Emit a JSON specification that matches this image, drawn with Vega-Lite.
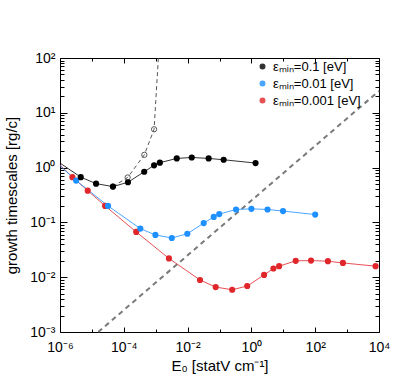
{
  "$schema": "https://vega.github.io/schema/vega-lite/v6.json",
  "width": 319,
  "height": 274,
  "autosize": "none",
  "padding": {"left": 60, "top": 58, "right": 20, "bottom": 60},
  "background": "white",
  "config": {
    "view": {"stroke": "black", "strokeWidth": 1},
    "axis": {
      "labelFont": "Liberation Sans", "titleFont": "Liberation Sans",
      "labelFontSize": 14, "titleFontSize": 15, "titleFontWeight": "normal",
      "labelColor": "black", "titleColor": "black", "tickColor": "black", "tickWidth": 1,
      "domain": false, "grid": false
    },
    "legend": {"labelFont": "Liberation Sans", "labelFontSize": 13, "labelColor": "black"}
  },
  "datasets": {
    "diag": [{"x": 1.58e-5, "y": 0.001}, {"x": 10000, "y": 25}],
    "curve": [
      {"x": 4.57e-5, "y": 0.45},
      {"x": 1.32e-4, "y": 0.66},
      {"x": 4.4e-4, "y": 1.71},
      {"x": 8.9e-4, "y": 5.0},
      {"x": 1.21e-3, "y": 100}
    ],
    "circles": [
      {"x": 4.57e-5, "y": 0.45},
      {"x": 1.32e-4, "y": 0.66},
      {"x": 4.4e-4, "y": 1.71},
      {"x": 8.9e-4, "y": 5.0}
    ],
    "lines": [
      {"series": "εₘᵢₙ=0.001 [eV]", "x": 1e-6, "y": 1.12},
      {"series": "εₘᵢₙ=0.001 [eV]", "x": 2.45e-6, "y": 0.67},
      {"series": "εₘᵢₙ=0.001 [eV]", "x": 7.4e-6, "y": 0.38},
      {"series": "εₘᵢₙ=0.001 [eV]", "x": 2.6e-5, "y": 0.2},
      {"series": "εₘᵢₙ=0.001 [eV]", "x": 2.45e-4, "y": 0.067},
      {"series": "εₘᵢₙ=0.001 [eV]", "x": 2.6e-3, "y": 0.022},
      {"series": "εₘᵢₙ=0.001 [eV]", "x": 2.45e-2, "y": 0.0089},
      {"series": "εₘᵢₙ=0.001 [eV]", "x": 7.6e-2, "y": 0.0066},
      {"series": "εₘᵢₙ=0.001 [eV]", "x": 0.25, "y": 0.0059},
      {"series": "εₘᵢₙ=0.001 [eV]", "x": 0.74, "y": 0.0069},
      {"series": "εₘᵢₙ=0.001 [eV]", "x": 2.5, "y": 0.011},
      {"series": "εₘᵢₙ=0.001 [eV]", "x": 4.9, "y": 0.0144},
      {"series": "εₘᵢₙ=0.001 [eV]", "x": 7.4, "y": 0.0159},
      {"series": "εₘᵢₙ=0.001 [eV]", "x": 24.5, "y": 0.0199},
      {"series": "εₘᵢₙ=0.001 [eV]", "x": 74, "y": 0.0201},
      {"series": "εₘᵢₙ=0.001 [eV]", "x": 250, "y": 0.0196},
      {"series": "εₘᵢₙ=0.001 [eV]", "x": 740, "y": 0.0182},
      {"series": "εₘᵢₙ=0.001 [eV]", "x": 7800, "y": 0.0159},
      {"series": "εₘᵢₙ=0.01 [eV]", "x": 1e-6, "y": 1.08},
      {"series": "εₘᵢₙ=0.01 [eV]", "x": 3.2e-6, "y": 0.58},
      {"series": "εₘᵢₙ=0.01 [eV]", "x": 3.2e-5, "y": 0.2},
      {"series": "εₘᵢₙ=0.01 [eV]", "x": 3.3e-4, "y": 0.077},
      {"series": "εₘᵢₙ=0.01 [eV]", "x": 9.8e-4, "y": 0.059},
      {"series": "εₘᵢₙ=0.01 [eV]", "x": 3.2e-3, "y": 0.052},
      {"series": "εₘᵢₙ=0.01 [eV]", "x": 9.8e-3, "y": 0.062},
      {"series": "εₘᵢₙ=0.01 [eV]", "x": 3.2e-2, "y": 0.097},
      {"series": "εₘᵢₙ=0.01 [eV]", "x": 6.6e-2, "y": 0.126},
      {"series": "εₘᵢₙ=0.01 [eV]", "x": 9.8e-2, "y": 0.142},
      {"series": "εₘᵢₙ=0.01 [eV]", "x": 0.33, "y": 0.172},
      {"series": "εₘᵢₙ=0.01 [eV]", "x": 1.0, "y": 0.177},
      {"series": "εₘᵢₙ=0.01 [eV]", "x": 3.2, "y": 0.172},
      {"series": "εₘᵢₙ=0.01 [eV]", "x": 9.8, "y": 0.161},
      {"series": "εₘᵢₙ=0.01 [eV]", "x": 100, "y": 0.139},
      {"series": "εₘᵢₙ=0.1 [eV]", "x": 1e-6, "y": 1.21},
      {"series": "εₘᵢₙ=0.1 [eV]", "x": 4.47e-6, "y": 0.67},
      {"series": "εₘᵢₙ=0.1 [eV]", "x": 1.35e-5, "y": 0.51},
      {"series": "εₘᵢₙ=0.1 [eV]", "x": 4.57e-5, "y": 0.45},
      {"series": "εₘᵢₙ=0.1 [eV]", "x": 1.35e-4, "y": 0.54},
      {"series": "εₘᵢₙ=0.1 [eV]", "x": 4.37e-4, "y": 0.84},
      {"series": "εₘᵢₙ=0.1 [eV]", "x": 8.9e-4, "y": 1.1},
      {"series": "εₘᵢₙ=0.1 [eV]", "x": 1.35e-3, "y": 1.23},
      {"series": "εₘᵢₙ=0.1 [eV]", "x": 4.57e-3, "y": 1.47},
      {"series": "εₘᵢₙ=0.1 [eV]", "x": 1.35e-2, "y": 1.53},
      {"series": "εₘᵢₙ=0.1 [eV]", "x": 4.57e-2, "y": 1.47},
      {"series": "εₘᵢₙ=0.1 [eV]", "x": 1.35e-1, "y": 1.39},
      {"series": "εₘᵢₙ=0.1 [eV]", "x": 1.35, "y": 1.21}
    ],
    "series": [
      {"series": "εₘᵢₙ=0.001 [eV]", "x": 2.45e-6, "y": 0.67},
      {"series": "εₘᵢₙ=0.001 [eV]", "x": 7.4e-6, "y": 0.38},
      {"series": "εₘᵢₙ=0.001 [eV]", "x": 2.6e-5, "y": 0.2},
      {"series": "εₘᵢₙ=0.001 [eV]", "x": 2.45e-4, "y": 0.067},
      {"series": "εₘᵢₙ=0.001 [eV]", "x": 2.6e-3, "y": 0.022},
      {"series": "εₘᵢₙ=0.001 [eV]", "x": 2.45e-2, "y": 0.0089},
      {"series": "εₘᵢₙ=0.001 [eV]", "x": 7.6e-2, "y": 0.0066},
      {"series": "εₘᵢₙ=0.001 [eV]", "x": 0.25, "y": 0.0059},
      {"series": "εₘᵢₙ=0.001 [eV]", "x": 0.74, "y": 0.0069},
      {"series": "εₘᵢₙ=0.001 [eV]", "x": 2.5, "y": 0.011},
      {"series": "εₘᵢₙ=0.001 [eV]", "x": 4.9, "y": 0.0144},
      {"series": "εₘᵢₙ=0.001 [eV]", "x": 7.4, "y": 0.0159},
      {"series": "εₘᵢₙ=0.001 [eV]", "x": 24.5, "y": 0.0199},
      {"series": "εₘᵢₙ=0.001 [eV]", "x": 74, "y": 0.0201},
      {"series": "εₘᵢₙ=0.001 [eV]", "x": 250, "y": 0.0196},
      {"series": "εₘᵢₙ=0.001 [eV]", "x": 740, "y": 0.0182},
      {"series": "εₘᵢₙ=0.001 [eV]", "x": 7800, "y": 0.0159},
      {"series": "εₘᵢₙ=0.01 [eV]", "x": 3.2e-6, "y": 0.58},
      {"series": "εₘᵢₙ=0.01 [eV]", "x": 3.2e-5, "y": 0.2},
      {"series": "εₘᵢₙ=0.01 [eV]", "x": 3.3e-4, "y": 0.077},
      {"series": "εₘᵢₙ=0.01 [eV]", "x": 9.8e-4, "y": 0.059},
      {"series": "εₘᵢₙ=0.01 [eV]", "x": 3.2e-3, "y": 0.052},
      {"series": "εₘᵢₙ=0.01 [eV]", "x": 9.8e-3, "y": 0.062},
      {"series": "εₘᵢₙ=0.01 [eV]", "x": 3.2e-2, "y": 0.097},
      {"series": "εₘᵢₙ=0.01 [eV]", "x": 6.6e-2, "y": 0.126},
      {"series": "εₘᵢₙ=0.01 [eV]", "x": 9.8e-2, "y": 0.142},
      {"series": "εₘᵢₙ=0.01 [eV]", "x": 0.33, "y": 0.172},
      {"series": "εₘᵢₙ=0.01 [eV]", "x": 1.0, "y": 0.177},
      {"series": "εₘᵢₙ=0.01 [eV]", "x": 3.2, "y": 0.172},
      {"series": "εₘᵢₙ=0.01 [eV]", "x": 9.8, "y": 0.161},
      {"series": "εₘᵢₙ=0.01 [eV]", "x": 100, "y": 0.139},
      {"series": "εₘᵢₙ=0.1 [eV]", "x": 4.47e-6, "y": 0.67},
      {"series": "εₘᵢₙ=0.1 [eV]", "x": 1.35e-5, "y": 0.51},
      {"series": "εₘᵢₙ=0.1 [eV]", "x": 4.57e-5, "y": 0.45},
      {"series": "εₘᵢₙ=0.1 [eV]", "x": 1.35e-4, "y": 0.54},
      {"series": "εₘᵢₙ=0.1 [eV]", "x": 4.37e-4, "y": 0.84},
      {"series": "εₘᵢₙ=0.1 [eV]", "x": 8.9e-4, "y": 1.1},
      {"series": "εₘᵢₙ=0.1 [eV]", "x": 1.35e-3, "y": 1.23},
      {"series": "εₘᵢₙ=0.1 [eV]", "x": 4.57e-3, "y": 1.47},
      {"series": "εₘᵢₙ=0.1 [eV]", "x": 1.35e-2, "y": 1.53},
      {"series": "εₘᵢₙ=0.1 [eV]", "x": 4.57e-2, "y": 1.47},
      {"series": "εₘᵢₙ=0.1 [eV]", "x": 1.35e-1, "y": 1.39},
      {"series": "εₘᵢₙ=0.1 [eV]", "x": 1.35, "y": 1.21}
    ]
  },
  "resolve": {"axis": {"x": "independent", "y": "independent"}},
  "layer": [
    {
      "data": {"name": "diag"},
      "mark": {"type": "line", "color": "#7a7a7a", "strokeWidth": 2, "strokeDash": [5, 4]},
      "encoding": {
        "x": {"field": "x", "type": "quantitative",
          "scale": {"type": "log", "domain": [1e-6, 10000], "nice": false},
          "axis": {"orient": "bottom", "values": [1e-6, 1e-4, 0.01, 1, 100, 10000], "ticks": false, "labelPadding": 8, "labelFlush": false,
            "labelExpr": "datum.value < 5e-6 ? '10⁻⁶' : datum.value < 5e-4 ? '10⁻⁴' : datum.value < 0.05 ? '10⁻²' : datum.value < 5 ? '10⁰' : datum.value < 500 ? '10²' : '10⁴'",
            "title": "E₀ [statV cm⁻¹]", "titlePadding": 4}},
        "y": {"field": "y", "type": "quantitative",
          "scale": {"type": "log", "domain": [0.001, 100], "nice": false},
          "axis": {"orient": "left", "values": [0.001, 0.01, 0.1, 1, 10, 100], "ticks": false, "labelPadding": 5,
            "labelExpr": "datum.value < 0.005 ? '10⁻³' : datum.value < 0.05 ? '10⁻²' : datum.value < 0.5 ? '10⁻¹' : datum.value < 5 ? '10⁰' : datum.value < 50 ? '10¹' : '10²'",
            "title": "growth timescales [rg/c]", "titlePadding": 10}}
      }
    },
    {
      "data": {"name": "curve"},
      "mark": {"type": "line", "color": "#555555", "strokeWidth": 1, "strokeDash": [4, 3]},
      "encoding": {
        "x": {"field": "x", "type": "quantitative",
          "scale": {"type": "log", "domain": [1e-6, 10000], "nice": false},
          "axis": {"orient": "bottom", "labels": false, "title": null, "tickSize": -5,
            "values": [1e-6, 1e-4, 0.01, 1, 100, 10000]}},
        "y": {"field": "y", "type": "quantitative",
          "scale": {"type": "log", "domain": [0.001, 100], "nice": false},
          "axis": {"orient": "left", "labels": false, "title": null, "tickSize": -7,
            "values": [0.001, 0.01, 0.1, 1, 10, 100]}}
      }
    },
    {
      "data": {"name": "circles"},
      "mark": {"type": "point", "shape": "circle", "filled": false, "color": "#555555", "strokeWidth": 1, "size": 28, "opacity": 1},
      "encoding": {
        "x": {"field": "x", "type": "quantitative",
          "scale": {"type": "log", "domain": [1e-6, 10000], "nice": false},
          "axis": {"orient": "bottom", "labels": false, "title": null, "tickSize": -3,
            "values": [1e-5, 1e-3, 0.1, 10, 1000]}},
        "y": {"field": "y", "type": "quantitative",
          "scale": {"type": "log", "domain": [0.001, 100], "nice": false},
          "axis": {"orient": "left", "labels": false, "title": null, "tickSize": -4,
            "values": [0.002, 0.003, 0.004, 0.005, 0.006, 0.007, 0.008, 0.009, 0.02, 0.03, 0.04, 0.05, 0.06, 0.07, 0.08, 0.09, 0.2, 0.3, 0.4, 0.5, 0.6, 0.7, 0.8, 0.9, 2, 3, 4, 5, 6, 7, 8, 9, 20, 30, 40, 50, 60, 70, 80, 90]}}
      }
    },
    {
      "data": {"name": "lines"},
      "mark": {"type": "line", "strokeWidth": 1, "opacity": 0.8},
      "encoding": {
        "x": {"field": "x", "type": "quantitative", "scale": {"type": "log", "domain": [1e-6, 10000], "nice": false},
          "axis": {"orient": "top", "labels": false, "title": null, "tickSize": -5,
            "values": [1e-6, 1e-4, 0.01, 1, 100, 10000]}},
        "y": {"field": "y", "type": "quantitative", "scale": {"type": "log", "domain": [0.001, 100], "nice": false},
          "axis": {"orient": "right", "labels": false, "title": null, "tickSize": -7,
            "values": [0.001, 0.01, 0.1, 1, 10, 100]}},
        "color": {"field": "series", "type": "nominal",
          "scale": {"domain": ["εₘᵢₙ=0.1 [eV]", "εₘᵢₙ=0.01 [eV]", "εₘᵢₙ=0.001 [eV]"], "range": ["#000000", "#1e90ff", "#e0262a"]}}
      }
    },
    {
      "data": {"name": "series"},
      "mark": {"type": "point", "shape": "circle", "filled": true, "size": 38, "opacity": 1},
      "encoding": {
        "x": {"field": "x", "type": "quantitative", "scale": {"type": "log", "domain": [1e-6, 10000], "nice": false},
          "axis": {"orient": "top", "labels": false, "title": null, "tickSize": -3,
            "values": [1e-5, 1e-3, 0.1, 10, 1000]}},
        "y": {"field": "y", "type": "quantitative", "scale": {"type": "log", "domain": [0.001, 100], "nice": false},
          "axis": {"orient": "right", "labels": false, "title": null, "tickSize": -4,
            "values": [0.002, 0.003, 0.004, 0.005, 0.006, 0.007, 0.008, 0.009, 0.02, 0.03, 0.04, 0.05, 0.06, 0.07, 0.08, 0.09, 0.2, 0.3, 0.4, 0.5, 0.6, 0.7, 0.8, 0.9, 2, 3, 4, 5, 6, 7, 8, 9, 20, 30, 40, 50, 60, 70, 80, 90]}},
        "color": {"field": "series", "type": "nominal",
          "legend": {"orient": "none", "legendX": 196, "legendY": 2, "title": null, "symbolType": "circle", "symbolSize": 20, "rowPadding": 3}}
      }
    }
  ]
}
